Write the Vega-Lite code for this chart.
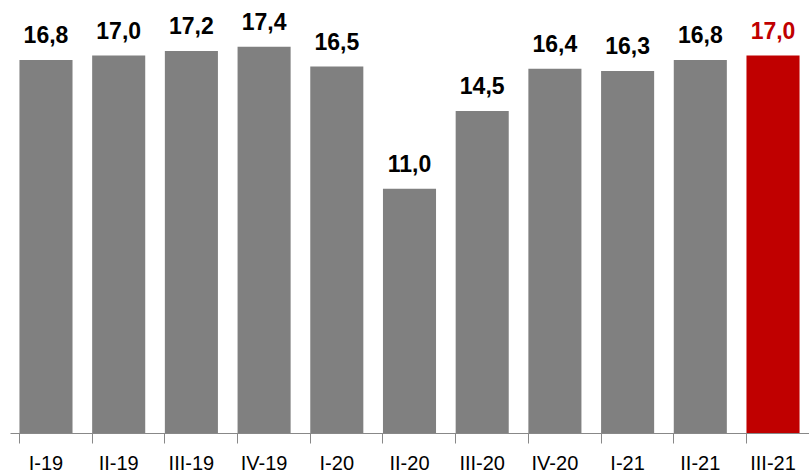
{
  "$schema": "https://vega.github.io/schema/vega-lite/v6.json",
  "width": 799,
  "height": 433,
  "autosize": {"type": "none"},
  "padding": {"left": 10, "top": 0, "right": 0, "bottom": 43},
  "data": {
    "values": [
      {"q": "I-19", "v": 16.8, "last": false},
      {"q": "II-19", "v": 17.0, "last": false},
      {"q": "III-19", "v": 17.2, "last": false},
      {"q": "IV-19", "v": 17.4, "last": false},
      {"q": "I-20", "v": 16.5, "last": false},
      {"q": "II-20", "v": 11.0, "last": false},
      {"q": "III-20", "v": 14.5, "last": false},
      {"q": "IV-20", "v": 16.4, "last": false},
      {"q": "I-21", "v": 16.3, "last": false},
      {"q": "II-21", "v": 16.8, "last": false},
      {"q": "III-21", "v": 17.0, "last": true}
    ]
  },
  "encoding": {
    "x": {
      "field": "q", "type": "nominal", "sort": null,
      "scale": {"paddingInner": 0.27, "paddingOuter": 0.13},
      "axis": {"title": null, "labelAngle": 0, "labelFont": "Liberation Sans", "labelFontSize": 20, "labelColor": "#000", "labelPadding": 10, "bandPosition": 0, "tickSize": 10, "tickColor": "#888", "domainColor": "#888", "grid": false}
    },
    "y": {"field": "v", "type": "quantitative", "scale": {"domain": [0, 19.5]}, "axis": null}
  },
  "layer": [
    {
      "mark": {"type": "bar"},
      "encoding": {
        "color": {"condition": {"test": "datum.last", "value": "#c00000"}, "value": "#808080"}
      }
    },
    {
      "mark": {"type": "text", "dy": -24, "font": "Liberation Sans", "fontSize": 23, "fontWeight": "bold"},
      "encoding": {
        "text": {"field": "v", "type": "quantitative", "format": ".1f"},
        "color": {"condition": {"test": "datum.last", "value": "#c00000"}, "value": "#000000"}
      }
    }
  ],
  "config": {"view": {"stroke": null}, "locale": {"number": {"decimal": ",", "thousands": ".", "grouping": [3], "currency": ["", "€"]}}}
}
